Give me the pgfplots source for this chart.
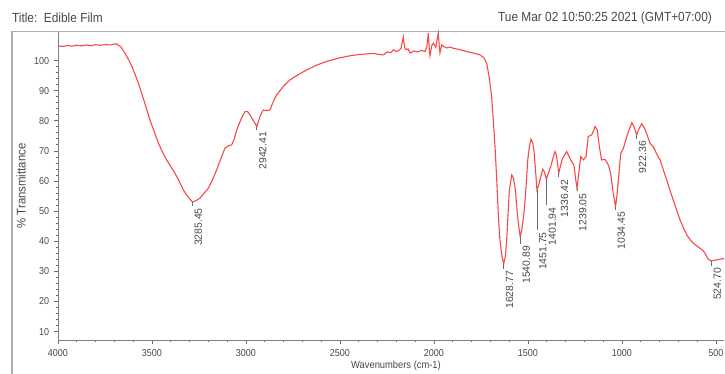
\documentclass[border=0pt]{standalone}
\usepackage{fontspec}
\setmainfont[FakeStretch=0.9]{Liberation Sans}
\newfontfamily\pkfont{Liberation Sans}
\usepackage{pgfplots}
\pgfplotsset{compat=1.18}
\definecolor{spec}{RGB}{250,72,72}
\definecolor{txt}{RGB}{72,72,72}
\definecolor{frm}{RGB}{175,175,175}
\pgfplotstableread{
x y
4000 104.9
3975 104.7
3950 105.0
3925 104.8
3900 105.1
3875 104.9
3850 105.2
3825 104.9
3800 105.3
3777 105.1
3750 105.3
3720 105.2
3700 105.5
3688 105.5
3666 104.6
3644 102.5
3620 99.8
3599 96.9
3577 93.3
3555 89.2
3533 84.8
3511 80.3
3488 76.4
3466 72.6
3444 69.6
3422 67.0
3400 64.8
3378 62.6
3355 59.9
3333 57.0
3311 55.0
3285 53.0
3265 53.5
3245 54.3
3222 56.0
3200 57.6
3178 60.4
3156 63.7
3134 67.4
3112 70.9
3090 71.8
3076 72.0
3062 74.0
3049 77.0
3027 80.4
3005 83.1
2990 83.0
2979 82.0
2960 80.0
2942 78.1
2925 81.5
2908 83.6
2890 83.4
2872 83.6
2855 86.4
2837 88.6
2800 91.5
2766 93.6
2720 95.4
2677 96.9
2620 98.6
2571 99.7
2510 100.8
2447 101.6
2400 102.0
2358 102.2
2320 102.4
2290 102.0
2269 101.9
2250 102.9
2230 102.6
2216 103.6
2200 103.0
2191 103.2
2175 104.0
2163 107.9
2156 104.4
2149 103.6
2138 103.9
2127 102.5
2105 103.2
2085 102.9
2065 103.4
2048 103.0
2038 104.5
2030 109.1
2025 104.0
2021 101.6
2012 104.9
2003 105.8
1990 104.4
1977 109.1
1972 105.0
1968 102.6
1959 105.2
1945 104.6
1931 104.2
1915 104.5
1897 104.1
1860 103.6
1826 103.0
1790 102.5
1755 101.9
1735 101.0
1719 99.1
1705 94.0
1693 88.0
1684 80.0
1675 71.4
1666 60.5
1658 49.4
1649 40.4
1638 35.0
1629 32.5
1620 35.0
1613 40.4
1599 57.0
1586 62.0
1577 61.0
1569 58.1
1560 52.0
1551 46.0
1541 41.5
1532 44.0
1521 49.3
1510 58.0
1501 67.0
1492 71.5
1484 73.9
1476 73.0
1468 70.3
1460 64.0
1452 57.0
1444 58.5
1436 60.4
1421 63.9
1412 63.0
1402 60.6
1392 62.5
1379 64.8
1366 67.8
1356 69.8
1348 68.5
1344 66.5
1336 62.6
1325 65.5
1315 67.6
1294 69.8
1280 68.0
1267 66.4
1255 65.3
1247 61.0
1239 57.6
1229 63.0
1219 68.1
1205 67.0
1191 68.1
1179 74.8
1161 75.3
1150 76.8
1143 78.1
1131 77.0
1120 71.4
1108 67.0
1090 67.2
1072 65.3
1060 62.6
1046 55.9
1034 51.5
1025 56.0
1019 60.4
1006 69.2
992 70.9
974 74.8
960 77.3
947 79.4
936 78.1
922 75.3
908 77.5
895 79.0
884 78.0
872 76.4
851 72.6
840 71.8
833 71.4
815 69.0
797 67.0
780 63.8
762 60.4
745 57.0
727 53.7
709 50.4
691 47.1
673 44.5
655 42.1
638 40.6
620 39.3
602 38.5
585 37.7
570 37.0
558 36.0
549 35.0
540 34.0
532 33.7
525 33.5
512 33.6
500 33.8
488 33.9
478 34.0
468 34.2
457 34.2
}\spectrum
\newcommand{\pk}[3]{\draw[txt!80, line width=0.45pt] (axis cs:#1,#2) -- ([yshift=-#3]axis cs:#1,#2) node[rotate=90, anchor=north east, inner sep=0.9pt, font=\pkfont\fontsize{5.2}{6}\selectfont, text=txt] {\pgfmathprintnumber[fixed,precision=2,fixed zerofill]{#1}};}
\begin{document}
\begin{tikzpicture}[x=1pt,y=1pt]
\useasboundingbox (-29,-17) rectangle (333.5,170);
\draw[frm, line width=0.6pt] (-23,-20) -- (-23,154.3) -- (340,154.3);
\begin{axis}[at={(0,0)}, anchor=south west, scale only axis,
  width=333pt, height=154pt,
  x dir=reverse, xmin=457, xmax=4000, ymin=7.2, ymax=109.5,
  axis lines=left, axis line style={-, txt!70, line width=0.45pt},
  xtick={500,1000,...,4000}, ytick={10,20,...,100},
  minor x tick num=4, minor y tick num=4,
  tick align=outside, major tick length=1.8pt, minor tick length=1pt,
  tick style={txt!80, line width=0.4pt},
  ticklabel style={font=\fontsize{5}{6}\selectfont, text=txt},
  /pgf/number format/assume math mode=true,
  /pgf/number format/set thousands separator={},
  xticklabel style={inner sep=0pt, yshift=-3pt},
  yticklabel style={inner sep=0pt, xshift=-2.4pt},
  clip=false,
]
\addplot[spec, line width=0.55pt] table[x=x,y=y] {\spectrum};
\pk{3285.45}{53.0}{2pt}
\pk{2942.41}{78.1}{1.5pt}
\pk{1628.77}{32.5}{2.5pt}
\pk{1540.89}{41.5}{3.5pt}
\pk{1451.75}{57.0}{20pt}
\pk{1401.94}{60.6}{13pt}
\pk{1336.42}{62.6}{2pt}
\pk{1239.05}{57.6}{1.5pt}
\pk{1034.45}{51.5}{1.5pt}
\pk{922.36}{75.3}{2pt}
\pk{524.70}{33.5}{2.5pt}
\end{axis}
\node[anchor=west, font=\fontsize{6.6}{7}\selectfont, text=txt] at (-26.5,161) {Title:\ \ Edible Film};
\node[anchor=east, font=\fontsize{6.6}{7}\selectfont, text=txt] at (330.5,161) {Tue Mar 02 10:50:25 2021 (GMT+07:00)};
\node[rotate=90, font=\fontsize{6.3}{7}\selectfont, text=txt] at (-18.5,77) {\% Transmittance};
\node[font=\fontsize{5.2}{6}\selectfont, text=txt] at (169,-13) {Wavenumbers (cm-1)};
\end{tikzpicture}
\end{document}
